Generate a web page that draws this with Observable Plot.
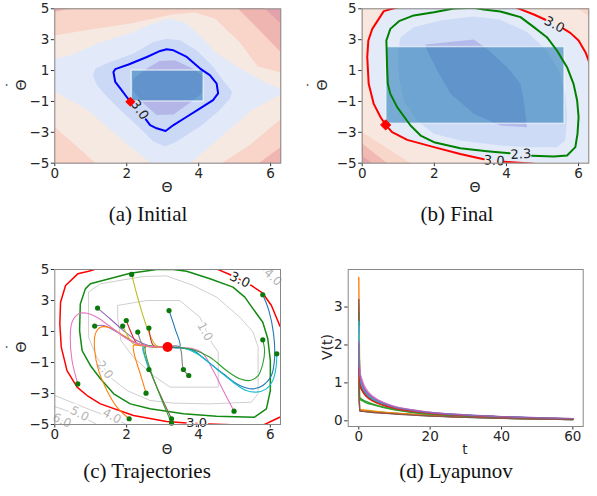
<!DOCTYPE html>
<html><head><meta charset="utf-8">
<script src="https://cdn.jsdelivr.net/npm/d3@7"></script>
<script src="https://cdn.jsdelivr.net/npm/@observablehq/plot@0.6"></script>
<style>
body{margin:0;background:#fff;}
#fig{position:relative;width:597px;height:496px;overflow:hidden;font-family:"DejaVu Sans",sans-serif;}
.cap{position:absolute;font-family:"Liberation Serif","Times New Roman",serif;font-size:21px;line-height:1;color:#111;white-space:nowrap;transform:translate(-50%,-50%);}
.lab{position:absolute;font-family:"DejaVu Sans",sans-serif;font-size:14px;line-height:1;color:#262626;white-space:nowrap;transform:translate(-50%,-50%);}
.lab.sm{font-size:13.5px;}
.rot{transform:translate(-50%,-50%) rotate(-90deg);}
.dotted{position:relative;display:inline-block;}
.dotted .dt{position:absolute;left:0;width:100%;text-align:center;top:-0.62em;}
</style></head><body><div id="fig"></div>
<script>
// ---------- common ----------
const xTicksTheta = [0, 2, 4, 6];
const yTicksTheta = [-5, -3, -1, 1, 3, 5];
const thetaDomain = [0, 2 * Math.PI];
const dthetaDomain = [-5, 5];
const tab10 = ["#1f77b4","#ff7f0e","#2ca02c","#d62728","#9467bd","#8c564b","#e377c2","#7f7f7f","#bcbd22","#17becf"];

// ---------- (a) Initial: filled level regions (Θ, Θ̇) ----------
const aBandColors = ["#e3a1ab","#efb6b1","#f9d4c8","#f6e9e2","#e2e9f8","#cbd9f7","#b4b6e8"];
const aB6 = [[-1,5.5],[5.61,5.5],[6.6,3.37],[6.6,-6],[-1,-6]];
const aB5 = [[-0.4,4.63],[0,4.79],[0.52,5.08],[5.06,5.08],[5.70,3.60],[6.28,2.18],[6.81,-0.92],[6.28,-3.95],[5.64,-5.05],[5.14,-5.75],[-0.4,-5.75]];
const aB4 = [[-0.17,3.21],[0.99,3.66],[2.10,4.05],[3.26,4.63],[3.90,4.76],[4.45,4.37],[5.14,2.83],[5.64,1.28],[6.25,0.89],[6.81,-0.59],[6.25,-2.21],[5.42,-3.82],[4.65,-4.98],[4.45,-5.56],[1.27,-5.56],[1.13,-4.98],[0,-2.66],[-0.29,-2.66]];
const aB3 = [[-0.17,1.66],[0.43,1.99],[1.27,2.83],[2.10,3.41],[2.65,3.99],[3.15,4.37],[3.62,4.12],[4.04,3.28],[4.45,2.18],[5.14,1.15],[5.84,0.25],[6.42,-0.34],[5.98,-0.92],[5.48,-1.56],[4.45,-3.63],[3.62,-5.30],[2.93,-5.43],[2.37,-4.46],[2.10,-3.95],[0.91,-1.56],[-0.17,-0.14]];
const aB2 = [[3.11,3.06],[3.48,2.96],[3.94,2.31],[4.40,1.24],[4.64,0.48],[4.93,-0.38],[4.87,-0.81],[4.59,-1.56],[4.04,-2.63],[3.39,-3.60],[3.07,-3.92],[2.74,-3.60],[2.37,-2.74],[1.82,-1.56],[1.45,-0.70],[1.17,0.05],[1.06,0.70],[1.13,1.13],[1.54,1.56],[2.19,2.10],[2.74,2.85]];
const aB1 = [[2.19,0.48],[2.56,1.13],[2.91,1.62],[3.34,1.67],[3.90,1.06],[4.13,0.59],[4.08,-0.48],[3.80,-1.02],[3.30,-1.84],[2.83,-1.88],[2.42,-1.02],[2.17,-0.27]];
const aContour = [[2.10,-1.02],[1.82,-0.16],[1.68,0.27],[1.63,0.91],[1.68,1.09],[2.05,1.39],[2.56,1.88],[2.93,2.27],[3.11,2.38],[3.30,2.31],[3.67,1.88],[4.04,1.13],[4.31,0.70],[4.50,0.16],[4.54,-0.48],[4.40,-0.91],[4.04,-1.45],[3.67,-1.99],[3.30,-2.53],[3.08,-2.91],[2.83,-2.74],[2.65,-2.53],[2.53,-2.16]];
const aRect = {x1: 2.14, x2: 4.14, y1: -1, y2: 1};
const aMarker = [[2.10, -1.02]];
const aLabels = [{x: 2.36, y: -1.55, text: "3.0", rotate: 55}];

// ---------- (b) Final ----------
const bBandColors = ["#e4a4ad","#f0bab3","#f8d6ca","#f8e7de","#e3eaf8","#cddbf7","#b3b9e8"];
const bL5 = [[-0.5,5.5],[6.6,5.5],[6.6,-5.5],[0.57,-5.5],[0.28,-5.0],[0,-4.51],[-0.5,-3.64]];
const bL4 = [[-0.5,5.5],[6.6,5.5],[6.6,-5.5],[0.96,-5.5],[0.69,-5.0],[0,-3.73],[-0.5,-2.81]];
const bL3 = [[-0.5,5.5],[5.72,5.5],[6.0,5.0],[6.28,4.5],[6.6,3.93],[6.6,-5.5],[1.68,-5.5],[1.34,-5.0],[0,-3.0],[-0.5,-2.25]];
const bL2 = [[1.06,5.15],[0.60,4.85],[0.28,3.70],[0.17,2.95],[0.14,1.87],[0.18,0.14],[0.32,-1.16],[0.51,-2.02],[0.65,-2.52],[0.83,-2.99],[1.25,-3.49],[1.99,-3.96],[2.72,-4.40],[3.37,-4.74],[3.66,-4.83],[3.94,-4.91],[4.76,-5.04],[5.2,-5.5],[6.6,-5.5],[6.6,1.0],[6.33,1.33],[6.19,2.19],[6.00,2.95],[5.77,3.44],[5.59,3.70],[5.33,3.98],[5.08,4.29],[4.76,4.63],[4.29,5.06],[4.1,5.5],[1.2,5.5]];
const bL1 = [[1.06,3.16],[1.43,3.81],[2.17,4.24],[3.09,4.50],[3.83,4.29],[4.57,3.49],[5.12,2.30],[5.45,1.00],[5.63,-0.51],[5.68,-2.02],[5.63,-3.53],[5.40,-3.96],[4.76,-3.96],[3.83,-3.86],[2.72,-3.53],[1.99,-3.10],[1.52,-2.24],[1.15,-0.94],[1.02,0.57],[0.99,2.08]];
const bL0 = [[1.75,2.69],[3.09,3.01],[3.46,2.41],[4.02,1.22],[4.39,0.14],[4.48,-0.94],[4.57,-2.67],[3.83,-2.56],[3.09,-1.80],[2.45,-0.51],[2.08,1.00],[1.80,2.30]];
const bRed = [
  [[1.06,5.15],[0.60,4.85],[0.28,3.70],[0.17,2.95],[0.14,1.87],[0.18,0.14],[0.32,-1.16],[0.51,-2.02],[0.65,-2.52],[0.83,-2.99],[1.25,-3.49],[1.99,-3.96],[2.72,-4.40],[3.37,-4.74]],
  [[3.94,-4.91],[4.76,-5.04]],
  [[4.29,5.06],[4.76,4.63],[5.08,4.29]],
  [[5.59,3.70],[5.77,3.44],[6.00,2.95],[6.19,2.19],[6.33,1.33]]
];
const bGreen = [[4.09,-4.35],[3.46,-4.22],[2.72,-4.03],[1.99,-3.64],[1.62,-3.21],[1.34,-2.56],[0.97,-1.37],[0.78,-0.51],[0.71,0.14],[0.69,1.22],[0.67,2.95],[0.78,3.70],[1.02,4.20],[1.43,4.57],[1.99,4.78],[2.54,5.02],[3.09,5.06],[3.37,4.96],[3.83,4.83],[4.39,4.46],[4.76,3.81],[5.12,3.16],[5.40,2.30],[5.68,1.22],[5.86,0.14],[5.96,-0.94],[6.00,-2.02],[5.97,-3.10],[5.91,-3.96],[5.68,-4.50],[5.31,-4.57],[4.71,-4.52]];
const bRect = {x1: 0.67, x2: 5.61, y1: -2.45, y2: 2.52};
const bMarker = [[0.65, -2.52]];
const bLabels = [{x: 5.33, y: 3.98, text: "3.0", rotate: 28},{x: 3.66, y: -4.84, text: "3.0", rotate: 4},{x: 4.40, y: -4.42, text: "2.3", rotate: -3}];

// ---------- (c) Trajectories ----------
const cGray = [
  [[1.75,2.68],[2.56,3.00],[3.48,3.00],[4.04,1.92],[4.36,0.31],[4.55,-0.33],[4.55,-2.59],[3.21,-2.59],[2.74,-1.84],[2.19,-0.66],[1.84,0.42],[1.75,1.92],[1.75,2.68]],
  [[0.94,3.54],[1.27,4.08],[2.47,4.55],[3.11,4.59],[3.85,3.97],[4.50,3.22],[5.15,1.92],[5.52,0.96],[5.66,-0.01],[5.66,-3.02],[5.47,-3.56],[4.32,-3.67],[3.30,-3.62],[2.65,-3.45],[2.01,-2.81],[1.54,-1.95],[1.17,-0.66],[0.94,0.63],[0.94,3.54]],
  [[5.79,5.0],[6.26,4.08],[6.4,3.8]],
  [[-0.1,-3.1],[0,-3.13],[0.80,-3.88],[1.64,-4.63],[2.01,-5.0],[2.1,-5.1]],
  [[-0.1,-3.8],[0,-3.84],[0.71,-4.42],[1.17,-5.0],[1.25,-5.1]],
  [[-0.1,-4.5],[0,-4.53],[0.48,-5.0],[0.55,-5.1]]
];
const cGrayLabels = [{x:4.18,y:1.0,text:"1.0",rotate:62},{x:1.39,y:-1.47,text:"2.0",rotate:55},{x:6.07,y:4.5,text:"4.0",rotate:42},{x:1.59,y:-4.46,text:"4.0",rotate:28},{x:0.69,y:-4.31,text:"5.0",rotate:28},{x:0.2,y:-4.74,text:"6.0",rotate:25}];
const cRed = [
  [[1.17,5.04],[0.94,4.89],[0.64,4.72],[0.30,3.97],[0.16,2.89],[0.14,1.49],[0.18,-0.01],[0.34,-1.52],[0.62,-2.59],[0.90,-3.13],[1.27,-3.67],[2.19,-4.42],[3.11,-4.81],[3.67,-4.91],[4.27,-4.96],[4.96,-5.02]],
  [[4.50,5.04],[4.87,4.68],[5.47,3.97],[5.79,3.47],[6.03,2.68],[6.26,1.39],[6.4,0.8]],
  [[5.84,-5.0],[6.26,-4.53],[6.4,-4.4]]
];
const cGreen = [[0.99,4.08],[2.10,4.76],[2.84,5.0],[3.30,5.0],[3.67,4.89],[4.32,4.40],[4.96,3.86],[5.29,3.22],[5.52,2.46],[5.79,1.60],[5.93,0.53],[6.00,-0.87],[6.00,-2.81],[5.89,-3.99],[5.56,-4.53],[4.50,-4.46],[3.58,-4.31],[2.65,-3.99],[2.10,-3.67],[1.64,-3.02],[1.27,-2.05],[0.99,-1.19],[0.76,-0.23],[0.69,1.06],[0.71,2.78],[0.85,3.75],[0.99,4.08]];
const cDarkLabels = [{x:5.15,y:4.33,text:"3.0",rotate:25},{x:3.95,y:-4.86,text:"3.0",rotate:0}];
const cTrajColors = ["#bcbd22","#9467bd","#d62728","#9467bd","#bcbd22","#d62728","#7f7f7f","#8c564b","#2ca02c","#17becf","#ff7f0e","#ff7f0e","#e377c2","#e377c2","#1f77b4","#17becf","#2ca02c","#1f77b4","#7f7f7f"];
const cTraj = [
  [[2.14,4.68],[2.82,0.10],[3.14,0.0]],
  [[1.19,2.51],[1.54,1.82],[1.91,1.06],[2.28,0.42],[2.65,0.07],[3.14,0]],
  [[1.99,1.71],[2.14,0.85],[2.28,0.25],[2.56,0.05],[3.14,0]],
  [[1.11,1.35],[1.36,1.39],[1.73,0.96],[2.19,0.31],[2.65,0.03],[3.14,0]],
  [[1.89,1.35],[2.05,0.63],[2.19,0.20],[2.56,0.03],[3.14,0]],
  [[2.62,1.22],[2.74,0.10],[2.88,0.02],[3.14,0]],
  [[2.31,0.96],[2.47,0.10],[2.74,0.02],[3.14,0]],
  [[3.25,-4.63],[2.49,-0.01],[2.84,0.0],[3.14,0]],
  [[3.25,-4.91],[2.53,0.03],[2.84,0],[3.14,0]],
  [[2.62,-1.45],[2.51,-0.66],[2.45,-0.01],[2.56,0.07],[2.84,0.0],[3.14,0]],
  [[2.54,-2.98],[2.38,-1.73],[2.21,-0.44],[2.19,0.10],[2.28,0.14],[2.65,0.03],[3.14,0]],
  [[2.07,-4.63],[1.73,-3.88],[1.45,-2.81],[1.22,-1.52],[1.11,-0.23],[1.13,0.85],[1.27,1.28],[1.54,1.24],[1.91,0.74],[2.28,0.25],[2.65,0.03],[3.14,0]],
  [[0.64,-2.38],[0.48,-0.87],[0.43,0.63],[0.48,1.60],[0.67,2.14],[0.90,2.18],[1.17,1.92],[1.54,1.32],[2.01,0.53],[2.47,0.10],[3.14,0]],
  [[4.99,-4.14],[4.69,-2.81],[4.41,-1.52],[4.13,-0.44],[3.85,-0.12],[3.48,-0.03],[3.14,0]],
  [[5.79,3.37],[5.96,2.35],[6.09,0.85],[6.12,-0.66],[6.03,-1.84],[5.79,-2.48],[5.52,-2.70],[5.15,-2.48],[4.69,-1.73],[4.22,-0.87],[3.85,-0.23],[3.48,-0.06],[3.14,0]],
  [[6.18,-0.44],[6.16,-1.30],[6.07,-2.16],[5.89,-2.70],[5.61,-2.91],[5.33,-2.81],[4.96,-2.27],[4.50,-1.41],[4.04,-0.55],[3.67,-0.12],[3.14,0]],
  [[5.79,0.46],[5.84,-0.23],[5.79,-1.09],[5.66,-1.84],[5.43,-2.16],[5.15,-2.05],[4.78,-1.52],[4.32,-0.66],[3.85,-0.18],[3.14,0]],
  [[3.18,2.35],[3.35,1.17],[3.48,0.0],[3.14,0]],
  [[3.73,-1.84],[3.58,-1.45],[3.47,0.0],[3.14,0]]
];
const cStarts = [[2.14,4.68],[1.19,2.51],[1.99,1.71],[1.11,1.35],[1.89,1.35],[2.62,1.22],[2.31,0.96],[3.18,2.35],[3.58,-1.45],[3.73,-1.84],[2.62,-1.45],[2.54,-2.98],[2.07,-4.63],[3.25,-4.63],[3.25,-4.91],[0.64,-2.38],[5.79,3.37],[5.79,0.46],[6.18,-0.44],[4.99,-4.14]];
const cEquilibrium = [[3.14, 0]];

// ---------- (d) Lyapunov ----------
const lyaT = [0, 0.25, 1, 2, 4, 7, 10, 15, 20, 30, 40, 50, 60];
const V01 = [3.05,1.25,0.92,0.74,0.57,0.44,0.35,0.27,0.21,0.15,0.11,0.075,0.05];
const V02 = [3.78,1.05,0.80,0.66,0.52,0.40,0.32,0.24,0.19,0.13,0.09,0.065,0.045];
const V03 = [2.85,0.62,0.56,0.51,0.44,0.36,0.30,0.23,0.18,0.125,0.09,0.065,0.045];
const V04 = [2.20,1.00,0.82,0.68,0.54,0.42,0.34,0.26,0.20,0.14,0.10,0.07,0.05];
const V05 = [1.90,1.30,1.00,0.80,0.62,0.47,0.37,0.28,0.22,0.155,0.11,0.08,0.055];
const V06 = [3.20,1.15,0.88,0.71,0.55,0.42,0.34,0.26,0.20,0.14,0.10,0.07,0.05];
const V07 = [2.50,1.35,1.05,0.84,0.64,0.48,0.38,0.29,0.22,0.155,0.11,0.08,0.055];
const V08 = [0.90,0.28,0.27,0.26,0.24,0.22,0.20,0.17,0.14,0.10,0.07,0.05,0.035];
const V09 = [2.30,0.30,0.29,0.28,0.26,0.23,0.20,0.17,0.14,0.10,0.07,0.05,0.035];
const V10 = [2.62,1.12,0.90,0.73,0.57,0.44,0.35,0.27,0.21,0.15,0.105,0.075,0.05];
const V11 = [1.60,0.27,0.26,0.25,0.23,0.21,0.19,0.16,0.13,0.095,0.07,0.05,0.035];
const V12 = [1.20,0.29,0.28,0.27,0.25,0.22,0.20,0.17,0.14,0.10,0.075,0.055,0.04];
const V13 = [2.00,0.58,0.53,0.48,0.42,0.35,0.29,0.22,0.175,0.12,0.085,0.06,0.04];
const V14 = [1.40,0.95,0.78,0.65,0.52,0.41,0.33,0.25,0.20,0.14,0.10,0.07,0.05];
const V15 = [2.10,1.22,0.95,0.77,0.60,0.46,0.36,0.28,0.22,0.15,0.105,0.075,0.05];
const V16 = [1.00,0.26,0.25,0.24,0.22,0.20,0.18,0.15,0.125,0.09,0.065,0.045,0.03];
const lyaSeries = [V01,V02,V03,V04,V05,V06,V07,V08,V09,V10,V11,V12,V13,V14,V15,V16];
const lyaXTicks = [0, 20, 40, 60];
const lyaYTicks = [0, 1, 2, 3];

// ---------- helpers ----------
const fmt = d => d < 0 ? "\u2212" + Math.abs(d) : String(d);
const X = d => d[0], Y = d => d[1];
const poly = (pts, fill) => Plot.line(pts, {x: X, y: Y, fill, stroke: "none", curve: "linear-closed", clip: true});
const path = (pts, stroke, w) => Plot.line(pts, {x: X, y: Y, stroke, strokeWidth: w, curve: "linear", clip: true});
const axes = (xt, yt, pad = 2) => [
  Plot.axisX(xt, {tickSize: 3.5, tickPadding: pad, label: null, tickFormat: fmt, stroke: "#333"}),
  Plot.axisY(yt, {tickSize: 3.5, tickPadding: 2, label: null, tickFormat: fmt, stroke: "#333"}),
  Plot.frame({stroke: "#888", strokeWidth: 1})
];
const styleCommon = {fontFamily: "'DejaVu Sans', sans-serif", fontSize: "13.5px", color: "#262626", background: "transparent", overflow: "visible"};
const fig = document.getElementById("fig");
function place(node, left, top) { node.style.position = "absolute"; node.style.left = left + "px"; node.style.top = top + "px"; fig.appendChild(node); }
function addText(text, x, y, cls) { const d = document.createElement("div"); d.className = cls; d.textContent = text; d.style.left = x + "px"; d.style.top = y + "px"; fig.appendChild(d); return d; }
function addDotLabel(x, y) {
  const d = document.createElement("div"); d.className = "lab rot"; d.style.left = x + "px"; d.style.top = y + "px";
  const s = document.createElement("span"); s.className = "dotted"; s.textContent = "Θ";
  const dt = document.createElement("span"); dt.className = "dt"; dt.textContent = "\u02D9";
  s.appendChild(dt); d.appendChild(s); fig.appendChild(d);
}
const rectMark = r => Plot.rect([r], {x1: "x1", x2: "x2", y1: "y1", y2: "y2", fill: "#1f77b4", fillOpacity: 0.55, stroke: "#ffffff", strokeOpacity: 0.6, strokeWidth: 1.5});
const contourText = (data, extra) => Plot.text(data, {x: "x", y: "y", text: "text", rotate: "rotate", fontSize: 13, ...extra});

// ---------- panel (a) ----------
const pa = Plot.plot({
  width: 297, height: 200, marginLeft: 54.3, marginRight: 16.7, marginTop: 8.3, marginBottom: 37.3,
  x: {domain: thetaDomain}, y: {domain: dthetaDomain}, style: styleCommon,
  marks: [
    Plot.frame({fill: aBandColors[0], stroke: "none"}),
    poly(aB6, aBandColors[1]), poly(aB5, aBandColors[2]), poly(aB4, aBandColors[3]),
    poly(aB3, aBandColors[4]), poly(aB2, aBandColors[5]), poly(aB1, aBandColors[6]),
    rectMark(aRect),
    path(aContour, "#0000ff", 2),
    contourText(aLabels, {fill: "#222"}),
    Plot.dot(aMarker, {x: X, y: Y, symbol: "diamond2", r: 4.6, fill: "#ff0000", stroke: "none"}),
    ...axes(xTicksTheta, yTicksTheta)
  ]
});
place(pa, 0, 0);

// ---------- panel (b) ----------
const pb = Plot.plot({
  width: 297, height: 200, marginLeft: 61.7, marginRight: 8.7, marginTop: 8.3, marginBottom: 37.3,
  x: {domain: thetaDomain}, y: {domain: dthetaDomain}, style: styleCommon,
  marks: [
    Plot.frame({fill: bBandColors[0], stroke: "none"}),
    poly(bL5, bBandColors[1]), poly(bL4, bBandColors[2]), poly(bL3, bBandColors[3]),
    poly(bL2, bBandColors[4]), poly(bL1, bBandColors[5]), poly(bL0, bBandColors[6]),
    rectMark(bRect),
    ...bRed.map(p => path(p, "#ff0000", 2)),
    path(bGreen, "#008000", 2),
    contourText(bLabels, {fill: "#222"}),
    Plot.dot(bMarker, {x: X, y: Y, symbol: "diamond2", r: 4.6, fill: "#ff0000", stroke: "#ff0000", strokeWidth: 1}),
    ...axes(xTicksTheta, yTicksTheta)
  ]
});
place(pb, 300, 0);

// ---------- panel (c) ----------
const pc = Plot.plot({
  width: 297, height: 200, marginLeft: 54.3, marginRight: 17, marginTop: 19, marginBottom: 26,
  x: {domain: thetaDomain}, y: {domain: dthetaDomain}, style: styleCommon,
  marks: [
    ...cGray.map(p => path(p, "#cfcfcf", 1)),
    contourText(cGrayLabels, {fill: "#b5b5b5", fontSize: 12, stroke: "white", strokeWidth: 4}),
    ...cRed.map(p => path(p, "#ff0000", 1.5)),
    path(cGreen, "#138a13", 1.5),
    contourText(cDarkLabels, {fill: "#222", fontSize: 13, stroke: "white", strokeWidth: 4}),
    ...cTraj.map((p, i) => Plot.line(p, {x: X, y: Y, stroke: cTrajColors[i], strokeWidth: 1.1, curve: "catmull-rom", clip: true})),
    Plot.dot(cStarts, {x: X, y: Y, r: 2.6, fill: "#0b7a0b", stroke: "none"}),
    Plot.dot(cEquilibrium, {x: X, y: Y, r: 5, fill: "#ff0000", stroke: "none"}),
    ...axes(xTicksTheta, yTicksTheta, 1.5)
  ]
});
place(pc, 0, 250);

// ---------- panel (d) ----------
const pd = Plot.plot({
  width: 297, height: 200, marginLeft: 47.7, marginRight: 14.3, marginTop: 19, marginBottom: 24,
  x: {domain: [-2.97, 62.9]}, y: {domain: [-0.15, 3.99]}, style: styleCommon,
  marks: [
    ...lyaSeries.map((vals, i) => Plot.line(lyaT.map((t, j) => [t, vals[j]]), {x: X, y: Y, stroke: tab10[i % 10], strokeWidth: 1.4, curve: "monotone-x", clip: true})),
    ...axes(lyaXTicks, lyaYTicks, 1.5)
  ]
});
place(pd, 300, 250);

// ---------- axis labels & captions ----------
addText("Θ", 167, 187, "lab");
addDotLabel(21, 85);
addText("Θ", 475, 187, "lab");
addDotLabel(322, 85);
addText("Θ", 167, 450, "lab sm");
addDotLabel(21, 347);
addText("t", 465, 450, "lab sm");
addText("V(t)", 327, 347, "lab rot");
addText("(a) Initial", 148, 214, "cap");
addText("(b) Final", 457, 214, "cap");
addText("(c) Trajectories", 147, 470.5, "cap");
addText("(d) Lyapunov", 456, 470.5, "cap");
</script></body></html>
